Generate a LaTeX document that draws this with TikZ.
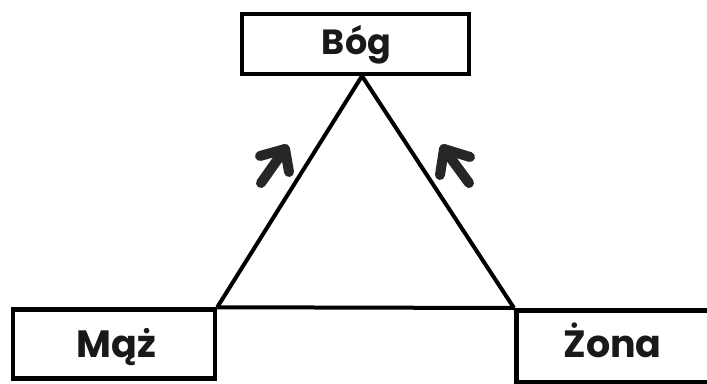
\documentclass[tikz,border=0pt]{standalone}
\usepackage{fontspec}
\setmainfont{Poppins}[BoldFont={Poppins Bold}]
\begin{document}
\begin{tikzpicture}[x=1pt,y=-1pt,
  box/.style={draw=black,line width=4.5pt,minimum width=#1,inner sep=0pt},
  lbl/.style={inner sep=0pt,anchor=base,text=black!90,font=\fontsize{#1}{#1}\selectfont\bfseries},
  edge/.style={line width=4pt,black},
  arr/.style={line width=10pt,black!85,line cap=round,line join=round}]
\useasboundingbox (0,0) rectangle (707,383);
\begin{scope}
\clip (0,0) rectangle (707,383);
\node[box=227pt,minimum height=60pt] (bog) at (355.5,44) {};
\node[box=202pt,minimum height=69pt] (maz) at (114,344) {};
\node[box=202pt,minimum height=72pt,anchor=north west] (zona) at (514,308) {};
\node[lbl=35] (bogt) at (356.5,54) {Bóg};
\node[lbl=38] (mazt) at (116.5,357) {Mąż};
\node[lbl=38] (zonat) at (612.5,357) {Żona};
\coordinate (apex) at (362,76);
\draw[edge] (maz.north east) -- (apex) -- (zona.north west);
\draw[edge] (maz.north east) -- (zona.north west);
\coordinate (la1) at (261,183);
\coordinate (la2) at (285,149);
\coordinate (la3) at (260,156);
\coordinate (la4) at (289,172);
\draw[arr] (la1) -- (la2);
\draw[arr] (la3) -- (la2) -- (la4);
\coordinate (ra1) at (469,183);
\coordinate (ra2) at (444,149);
\coordinate (ra3) at (470,157);
\coordinate (ra4) at (440,175);
\draw[arr] (ra1) -- (ra2);
\draw[arr] (ra3) -- (ra2) -- (ra4);
\end{scope}
\end{tikzpicture}
\end{document}
